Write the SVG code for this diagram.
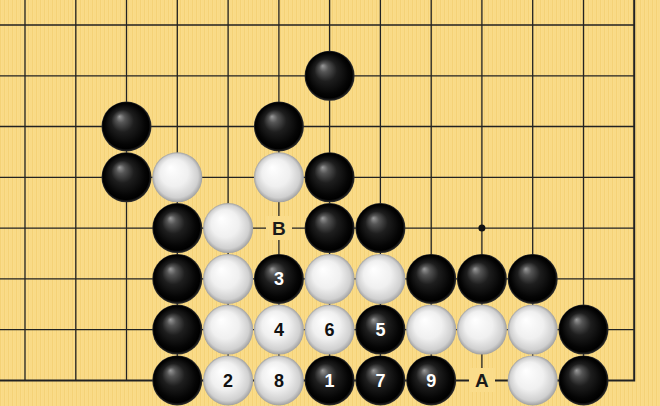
<svg xmlns="http://www.w3.org/2000/svg" width="660" height="406" viewBox="0 0 660 406">
<defs>
<pattern id="wood" width="4" height="10" patternUnits="userSpaceOnUse">
<rect width="4" height="10" fill="#FADC8A"/>
<rect x="0" width="1" height="10" fill="#F5D277"/>
<rect x="2.5" width="0.8" height="10" fill="#F8D982"/>
</pattern>
<radialGradient id="gb" cx="0.5" cy="0.5" r="0.5" fx="0.36" fy="0.3">
<stop offset="0" stop-color="#9a9a9a"/>
<stop offset="0.18" stop-color="#555"/>
<stop offset="0.45" stop-color="#1e1e1e"/>
<stop offset="0.8" stop-color="#050505"/>
<stop offset="0.92" stop-color="#000"/>
<stop offset="1" stop-color="#333"/>
</radialGradient>
<radialGradient id="gw" cx="0.5" cy="0.5" r="0.5" fx="0.36" fy="0.3">
<stop offset="0" stop-color="#ffffff"/>
<stop offset="0.55" stop-color="#f0f0f0"/>
<stop offset="0.87" stop-color="#d0d0d0"/>
<stop offset="1" stop-color="#a0a0a0"/>
</radialGradient>
<style>
.ln{stroke:#222;stroke-width:1.3;fill:none}
.edge{stroke:#222;stroke-width:2;fill:none}
.b{fill:url(#gb)}
.w{fill:url(#gw)}
.t{font-family:"Liberation Sans",Arial,sans-serif;font-weight:bold;font-size:18px;text-anchor:middle}
.tb{fill:#fff}
.tw{fill:#111}
.lab{fill:#1a1a1a;font-size:19px}
</style>
</defs>
<rect width="660" height="406" fill="url(#wood)"/>
<g id="connectors">
<path class="ln" d="M25 0V380M75.8 0V380M126.5 0V380M177.3 0V380M228.1 0V380M278.9 0V380M329.6 0V380M380.4 0V380M431.2 0V380M481.9 0V380M532.7 0V380M583.5 0V380"/>
<path class="ln" d="M0 25H634M0 75.8H634M0 126.5H634M0 177.3H634M0 228.1H634M0 278.9H634M0 329.6H634"/>
<path class="edge" d="M634.2 0V380.4H0"/>
<circle cx="481.9" cy="228.1" r="3.5" fill="#111"/>
</g>
<g id="labelB"><rect x="266" y="216" width="26" height="24" fill="#FADC8A"/><text class="t lab" x="278.9" y="235">B</text></g>
<g id="labelA"><rect x="469" y="368" width="26" height="24" fill="#FADC8A"/><text class="t lab" x="481.9" y="387">A</text></g>
<g id="stones">
<g id="b-6-1"><circle class="b" cx="329.6" cy="75.8" r="25"/></g>
<g id="b-2-2"><circle class="b" cx="126.5" cy="126.5" r="25"/></g>
<g id="b-5-2"><circle class="b" cx="278.9" cy="126.5" r="25"/></g>
<g id="b-2-3"><circle class="b" cx="126.5" cy="177.3" r="25"/></g>
<g id="w-3-3"><circle class="w" cx="177.3" cy="177.3" r="25"/></g>
<g id="w-5-3"><circle class="w" cx="278.9" cy="177.3" r="25"/></g>
<g id="b-6-3"><circle class="b" cx="329.6" cy="177.3" r="25"/></g>
<g id="b-3-4"><circle class="b" cx="177.3" cy="228.1" r="25"/></g>
<g id="w-4-4"><circle class="w" cx="228.1" cy="228.1" r="25"/></g>
<g id="b-6-4"><circle class="b" cx="329.6" cy="228.1" r="25"/></g>
<g id="b-7-4"><circle class="b" cx="380.4" cy="228.1" r="25"/></g>
<g id="b-3-5"><circle class="b" cx="177.3" cy="278.9" r="25"/></g>
<g id="w-4-5"><circle class="w" cx="228.1" cy="278.9" r="25"/></g>
<g id="m3"><circle class="b" cx="278.9" cy="278.9" r="25"/><text class="t tb" x="278.9" y="285.3">3</text></g>
<g id="w-6-5"><circle class="w" cx="329.6" cy="278.9" r="25"/></g>
<g id="w-7-5"><circle class="w" cx="380.4" cy="278.9" r="25"/></g>
<g id="b-8-5"><circle class="b" cx="431.2" cy="278.9" r="25"/></g>
<g id="b-9-5"><circle class="b" cx="481.9" cy="278.9" r="25"/></g>
<g id="b-10-5"><circle class="b" cx="532.7" cy="278.9" r="25"/></g>
<g id="b-3-6"><circle class="b" cx="177.3" cy="329.6" r="25"/></g>
<g id="w-4-6"><circle class="w" cx="228.1" cy="329.6" r="25"/></g>
<g id="m4"><circle class="w" cx="278.9" cy="329.6" r="25"/><text class="t tw" x="278.9" y="336">4</text></g>
<g id="m6"><circle class="w" cx="329.6" cy="329.6" r="25"/><text class="t tw" x="329.6" y="336">6</text></g>
<g id="m5"><circle class="b" cx="380.4" cy="329.6" r="25"/><text class="t tb" x="380.4" y="336">5</text></g>
<g id="w-8-6"><circle class="w" cx="431.2" cy="329.6" r="25"/></g>
<g id="w-9-6"><circle class="w" cx="481.9" cy="329.6" r="25"/></g>
<g id="w-10-6"><circle class="w" cx="532.7" cy="329.6" r="25"/></g>
<g id="b-11-6"><circle class="b" cx="583.5" cy="329.6" r="25"/></g>
<g id="b-3-7"><circle class="b" cx="177.3" cy="380.4" r="25"/></g>
<g id="m2"><circle class="w" cx="228.1" cy="380.4" r="25"/><text class="t tw" x="228.1" y="386.8">2</text></g>
<g id="m8"><circle class="w" cx="278.9" cy="380.4" r="25"/><text class="t tw" x="278.9" y="386.8">8</text></g>
<g id="m1"><circle class="b" cx="329.6" cy="380.4" r="25"/><text class="t tb" x="329.6" y="386.8">1</text></g>
<g id="m7"><circle class="b" cx="380.4" cy="380.4" r="25"/><text class="t tb" x="380.4" y="386.8">7</text></g>
<g id="m9"><circle class="b" cx="431.2" cy="380.4" r="25"/><text class="t tb" x="431.2" y="386.8">9</text></g>
<g id="w-10-7"><circle class="w" cx="532.7" cy="380.4" r="25"/></g>
<g id="b-11-7"><circle class="b" cx="583.5" cy="380.4" r="25"/></g>
</g>
</svg>
